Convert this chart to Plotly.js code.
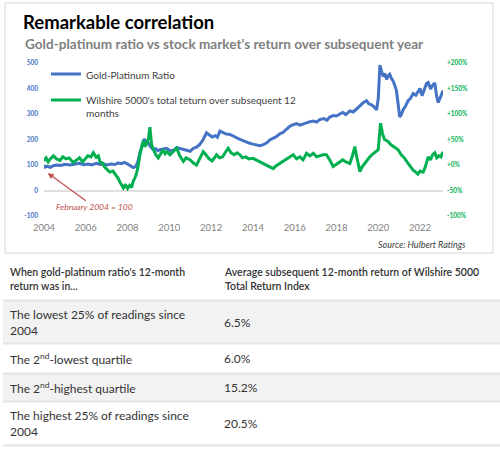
<!DOCTYPE html>
<html><head><meta charset="utf-8">
<script src="https://cdn.plot.ly/plotly-3.0.1.min.js"></script>
<style>html,body{margin:0;padding:0;background:#fff}#chart{width:500px;height:450px}</style>
</head><body><div id="chart"></div>
<script>
// ---- Data ----
const gpYears = [2004.00,2004.05,2004.15,2004.30,2004.45,2004.60,2004.80,2005.00,2005.25,2005.45,2005.70,2005.90,2006.10,2006.30,2006.50,2006.70,2006.90,2007.00,2007.20,2007.40,2007.55,2007.70,2007.85,2008.00,2008.15,2008.27,2008.40,2008.50,2008.60,2008.70,2008.80,2008.90,2009.00,2009.10,2009.23,2009.35,2009.45,2009.55,2009.70,2009.87,2010.00,2010.20,2010.35,2010.50,2010.65,2010.83,2011.00,2011.14,2011.30,2011.45,2011.62,2011.78,2011.90,2012.05,2012.20,2012.30,2012.42,2012.55,2012.70,2012.90,2013.06,2013.20,2013.38,2013.54,2013.70,2013.86,2014.00,2014.15,2014.33,2014.50,2014.65,2014.81,2014.97,2015.10,2015.29,2015.45,2015.60,2015.77,2015.93,2016.09,2016.25,2016.40,2016.55,2016.73,2016.90,2017.05,2017.20,2017.40,2017.55,2017.68,2017.85,2018.00,2018.16,2018.30,2018.45,2018.64,2018.80,2018.96,2019.10,2019.28,2019.44,2019.55,2019.68,2019.80,2019.92,2020.00,2020.08,2020.15,2020.23,2020.32,2020.40,2020.48,2020.55,2020.63,2020.71,2020.80,2020.87,2020.95,2021.03,2021.10,2021.20,2021.30,2021.43,2021.55,2021.67,2021.80,2021.90,2022.00,2022.10,2022.20,2022.31,2022.39,2022.50,2022.60,2022.71,2022.79,2022.87,2022.95,2023.03,2023.10];
const gpRatio = [100,92,95,91,97,100,98,103,100,104,107,101,104,100,107,102,104,100,104,102,108,105,110,104,97,90,95,115,150,178,202,190,186,172,160,164,156,160,162,165,158,157,168,165,160,159,154,165,170,180,200,226,218,210,215,209,233,228,222,220,212,208,200,194,190,185,182,178,176,180,186,198,204,210,222,228,240,252,258,262,256,260,266,270,272,268,278,282,276,288,294,292,300,306,298,312,308,318,330,344,352,340,336,328,316,360,492,470,448,458,436,450,456,440,430,410,392,340,288,298,318,330,352,362,380,374,388,400,372,395,420,424,398,412,422,372,345,360,378,392];

const wsYears = [2004.00,2004.10,2004.20,2004.30,2004.45,2004.60,2004.77,2004.90,2005.05,2005.20,2005.40,2005.55,2005.70,2005.85,2006.00,2006.10,2006.25,2006.36,2006.50,2006.60,2006.68,2006.80,2006.90,2007.00,2007.15,2007.30,2007.45,2007.55,2007.64,2007.72,2007.80,2007.90,2008.00,2008.10,2008.20,2008.27,2008.35,2008.43,2008.50,2008.60,2008.68,2008.75,2008.83,2008.92,2009.00,2009.07,2009.15,2009.25,2009.35,2009.47,2009.60,2009.70,2009.80,2009.90,2010.03,2010.20,2010.35,2010.50,2010.67,2010.80,2011.00,2011.15,2011.30,2011.45,2011.62,2011.75,2011.90,2012.05,2012.15,2012.26,2012.40,2012.55,2012.70,2012.82,2012.95,2013.10,2013.25,2013.38,2013.50,2013.65,2013.80,2014.00,2014.15,2014.33,2014.50,2014.65,2014.80,2014.97,2015.10,2015.29,2015.45,2015.60,2015.75,2015.93,2016.09,2016.25,2016.40,2016.57,2016.73,2016.89,2017.05,2017.20,2017.35,2017.52,2017.68,2017.84,2018.00,2018.16,2018.30,2018.45,2018.64,2018.75,2018.88,2018.95,2019.05,2019.12,2019.22,2019.35,2019.45,2019.60,2019.75,2019.90,2020.00,2020.11,2020.20,2020.30,2020.47,2020.60,2020.75,2020.95,2021.10,2021.25,2021.43,2021.55,2021.67,2021.80,2021.90,2022.00,2022.15,2022.25,2022.39,2022.50,2022.60,2022.71,2022.80,2022.90,2023.00,2023.10];
const wsReturn = [8,14,6,12,18,12,9,16,12,14,5,10,14,6,14,18,16,24,15,18,6,4,-4,-8,-14,-12,-20,-26,-34,-40,-45,-38,-46,-40,-44,-32,-26,-16,-4,22,40,48,36,42,52,74,40,28,20,14,24,30,22,26,20,28,33,18,7,14,10,4,0,12,26,20,12,8,14,20,14,16,26,33,24,20,24,20,14,16,12,13,10,6,2,0,-4,-7,-2,3,6,10,14,20,12,16,10,23,18,23,16,18,20,20,10,-3,2,6,10,6,3,16,36,20,4,-13,-4,3,8,16,22,26,30,82,62,50,46,40,36,30,20,14,3,-4,-10,-14,-18,-12,-14,-4,16,10,20,24,14,18,16,26];

const seriesNames = ["Gold-Platinum Ratio", "Wilshire 5000's total teturn over subsequent 12<br>months"];
const leftTicks = [-100, 0, 100, 200, 300, 400, 500];
const rightTicks = [-100, -50, 0, 50, 100, 150, 200];
const rightTickText = ["-100%", "-50%", "+0%", "+50%", "+100%", "+150%", "+200%"];
const yearTicks = [2004, 2006, 2008, 2010, 2012, 2014, 2016, 2018, 2020, 2022];

const tableHeader = ["When gold-platinum ratio's 12-month<br>return was in...", "Average subsequent 12-month return of Wilshire 5000<br>Total Return Index"];
const tableLabels = ["The lowest 25% of readings since<br>2004", "The 2<sup>nd</sup>-lowest quartile", "The 2<sup>nd</sup>-highest quartile", "The highest 25% of readings since<br>2004"];
const avgReturn = [6.5, 6.0, 15.2, 20.5];

// ---- Layout helpers (pixels -> paper) ----
const W = 500, H = 450;
const px = v => v / W;
const py = v => 1 - v / H;
const FONT = "Lato, 'Open Sans', sans-serif";

const traces = [
  {x: gpYears, y: gpRatio, name: seriesNames[0], type: 'scatter', mode: 'lines',
   line: {color: '#4472C4', width: 3}, yaxis: 'y', legendgroup: 'a'},
  {x: wsYears, y: wsReturn, name: seriesNames[1], type: 'scatter', mode: 'lines',
   line: {color: '#00B050', width: 3}, yaxis: 'y2', legendgroup: 'b'}
];

// Table geometry
const rowBands = [[256, 300], [301, 343], [344, 373], [374, 401], [402, 445]];
const col1X = 8, col2X = 222;

const shapes = [
  {type: 'rect', xref: 'paper', yref: 'paper', x0: px(5), x1: px(493), y0: py(3), y1: py(253),
   line: {color: '#d6d6d6', width: 1}, fillcolor: 'rgba(0,0,0,0)', layer: 'below'}
];
const annotations = [];

// body rows
tableLabels.forEach((lab, i) => {
  const [t, b] = rowBands[i + 1];
  if (i % 2 === 0) {
    shapes.push({type: 'rect', xref: 'paper', yref: 'paper', x0: px(3), x1: px(500), y0: py(t), y1: py(b),
      line: {width: 0}, fillcolor: '#f2f2f2', layer: 'below'});
  }
  annotations.push({xref: 'paper', yref: 'paper', x: px(col1X), y: py((t + b) / 2), xanchor: 'left', yanchor: 'middle',
    text: lab, showarrow: false, align: 'left', font: {family: FONT, size: 12, color: '#333333'}});
  annotations.push({xref: 'paper', yref: 'paper', x: px(col2X), y: py((t + b) / 2), xanchor: 'left', yanchor: 'middle',
    text: avgReturn[i].toFixed(1) + '%', showarrow: false, align: 'left', font: {family: FONT, size: 12, color: '#333333'}});
});
// separators
rowBands.slice(1).forEach(([t, b]) => {
  shapes.push({type: 'line', xref: 'paper', yref: 'paper', x0: px(3), x1: px(500), y0: py(t - 0.5), y1: py(t - 0.5),
    line: {color: '#e4e4e4', width: 2}, layer: 'below'});
});
shapes.push({type: 'line', xref: 'paper', yref: 'paper', x0: px(3), x1: px(500), y0: py(445.5), y1: py(445.5),
  line: {color: '#e4e4e4', width: 2}, layer: 'below'});
// header
[col1X, col2X].forEach((cx, j) => {
  annotations.push({xref: 'paper', yref: 'paper', x: px(cx), y: py((rowBands[0][0] + rowBands[0][1]) / 2 + 1), xanchor: 'left', yanchor: 'middle',
    text: tableHeader[j], showarrow: false, align: 'left', font: {family: FONT, size: 10.5, color: '#333333', weight: 600}});
});

// chart annotations
annotations.push({xref: 'x', yref: 'y', x: 2004.18, y: 68, ax: 47, ay: 34, axref: 'pixel', ayref: 'pixel',
  text: 'February 2004 = 100', showarrow: true, arrowhead: 2, arrowsize: 1, arrowwidth: 1.2, arrowcolor: '#c0504d',
  font: {family: FONT, size: 8.5, color: '#c0504d', style: 'italic'}});
annotations.push({xref: 'paper', yref: 'paper', x: px(468), y: py(245), xanchor: 'right', yanchor: 'middle',
  text: 'Source: Hulbert Ratings', showarrow: false, font: {family: FONT, size: 9, color: '#404040', style: 'italic'}});
annotations.push({xref: 'paper', yref: 'paper', x: px(23), y: py(44), xanchor: 'left', yanchor: 'middle',
  text: "Gold-platinum ratio vs stock market's return over subsequent year", showarrow: false,
  font: {family: FONT, size: 13.6, color: '#7f7f7f', weight: 'bold'}});

const layout = {
  width: W, height: H,
  margin: {l: 0, r: 0, t: 0, b: 0},
  paper_bgcolor: '#ffffff', plot_bgcolor: 'rgba(0,0,0,0)',
  title: {text: 'Remarkable correlation', x: px(23), xanchor: 'left', xref: 'paper', y: py(23), yanchor: 'middle', yref: 'container',
    font: {family: FONT, size: 18.5, color: '#000000', weight: 'bold'}},
  xaxis: {domain: [px(44), px(443)], range: [2004, 2023.1], tickvals: yearTicks, ticktext: yearTicks.map(String),
    showgrid: false, zeroline: false, showline: false, ticks: '', ticklabelstandoff: 4,
    tickfont: {family: FONT, size: 9.5, color: '#7f7f7f'}},
  yaxis: {domain: [py(216), py(63)], range: [-100, 500], tickvals: leftTicks, ticktext: leftTicks.map(String),
    showgrid: false, zeroline: true, zerolinecolor: '#e0e0e0', zerolinewidth: 2, showline: false, ticks: '', ticklabelstandoff: 5,
    tickfont: {family: FONT, size: 6.5, color: '#4472C4', weight: 'bold'}},
  yaxis2: {overlaying: 'y', side: 'right', anchor: 'x', range: [-100, 200], tickvals: rightTicks, ticktext: rightTickText,
    showgrid: false, zeroline: false, showline: false, ticks: '', ticklabelstandoff: 3,
    tickfont: {family: FONT, size: 6.5, color: '#00B050', weight: 'bold'}},
  showlegend: true,
  legend: {x: px(46), y: py(61), xanchor: 'left', yanchor: 'top', bgcolor: 'rgba(0,0,0,0)', valign: 'top',
    traceorder: 'grouped', tracegroupgap: 7, itemwidth: 30,
    font: {family: FONT, size: 10, color: '#404040'}},
  shapes: shapes,
  annotations: annotations
};

Plotly.newPlot('chart', traces, layout, {staticPlot: true, displayModeBar: false});
</script>
</body></html>
